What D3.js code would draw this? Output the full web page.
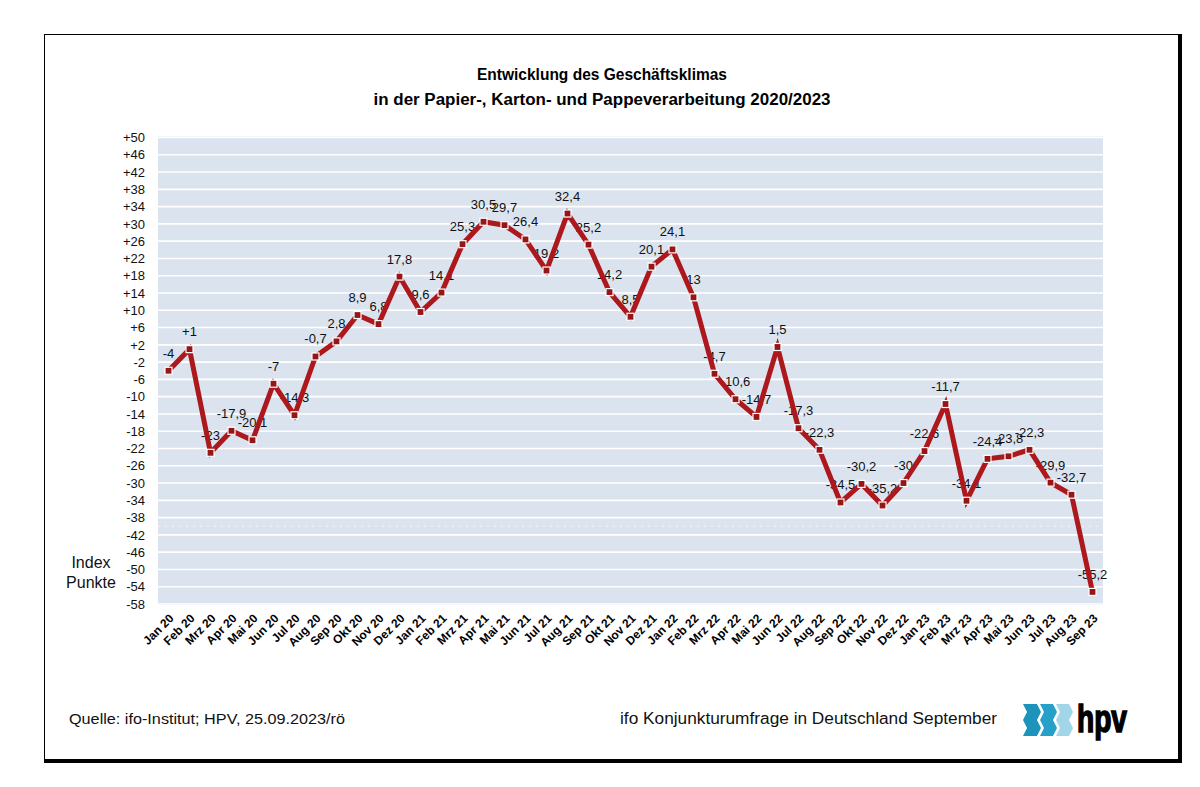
<!DOCTYPE html>
<html>
<head>
<meta charset="utf-8">
<script src="https://cdn.jsdelivr.net/npm/d3@7"></script>
<style>
  body { margin: 0; background: #fff; }
  svg { display: block; font-family: Arial, "Liberation Sans", sans-serif; }
</style>
</head>
<body>
<svg id="chart"></svg>
<script>
const months = [
  "Jan 20", "Feb 20", "Mrz 20", "Apr 20", "Mai 20", "Jun 20", "Jul 20", "Aug 20", "Sep 20", "Okt 20", "Nov 20", "Dez 20",
  "Jan 21", "Feb 21", "Mrz 21", "Apr 21", "Mai 21", "Jun 21", "Jul 21", "Aug 21", "Sep 21", "Okt 21", "Nov 21", "Dez 21",
  "Jan 22", "Feb 22", "Mrz 22", "Apr 22", "Mai 22", "Jun 22", "Jul 22", "Aug 22", "Sep 22", "Okt 22", "Nov 22", "Dez 22",
  "Jan 23", "Feb 23", "Mrz 23", "Apr 23", "Mai 23", "Jun 23", "Jul 23", "Aug 23", "Sep 23"
];

const values = [
  -4, 1, -23, -17.9, -20.1, -7, -14.3, -0.7, 2.8, 8.9, 6.8, 17.8,
  9.6, 14.1, 25.3, 30.5, 29.7, 26.4, 19.2, 32.4, 25.2, 14.2, 8.5, 20.1,
  24.1, 13, -4.7, -10.6, -14.7, 1.5, -17.3, -22.3, -34.5, -30.2, -35.2, -30,
  -22.6, -11.7, -34.1, -24.4, -23.8, -22.3, -29.9, -32.7, -55.2
];

// labels as printed in the chart (only +1 carries a plus sign)
const pointLabels = [
  "-4", "+1", "-23", "-17,9", "-20,1", "-7", "-14,3", "-0,7", "2,8", "8,9", "6,8", "17,8",
  "9,6", "14,1", "25,3", "30,5", "29,7", "26,4", "19,2", "32,4", "25,2", "14,2", "8,5", "20,1",
  "24,1", "13", "-4,7", "-10,6", "-14,7", "1,5", "-17,3", "-22,3", "-34,5", "-30,2", "-35,2", "-30",
  "-22,6", "-11,7", "-34,1", "-24,4", "-23,8", "-22,3", "-29,9", "-32,7", "-55,2"
];

const yTickValues = [50, 46, 42, 38, 34, 30, 26, 22, 18, 14, 10, 6, 2, -2, -6, -10, -14, -18, -22, -26, -30, -34, -38, -42, -46, -50, -54, -58];

const titleLines = ["Entwicklung des Geschäftsklimas", "in der Papier-, Karton- und Pappeverarbeitung 2020/2023"];
const yAxisTitle = ["Index", "Punkte"];
const sourceNote = "Quelle: ifo-Institut; HPV, 25.09.2023/rö";
const surveyNote = "ifo Konjunkturumfrage in Deutschland September";

const width = 1200;
const height = 787;

const svg = d3.select("#chart")
  .attr("width", width)
  .attr("height", height);

// frame with heavier right/bottom edge
svg.append("rect")
  .attr("x", 44.5).attr("y", 34.5)
  .attr("width", 1134).attr("height", 726)
  .attr("fill", "#fff")
  .attr("stroke", "#000")
  .attr("stroke-width", 1);
svg.append("line")
  .attr("x1", 1180).attr("x2", 1180).attr("y1", 34).attr("y2", 763)
  .attr("stroke", "#000").attr("stroke-width", 4);
svg.append("line")
  .attr("x1", 44).attr("x2", 1182).attr("y1", 761).attr("y2", 761)
  .attr("stroke", "#000").attr("stroke-width", 4);

const plot = { left: 158, right: 1103, top: 137.5, bottom: 604 };

const x = d3.scaleBand()
  .domain(months)
  .range([plot.left, plot.right])
  .padding(0);

const y = d3.scaleLinear()
  .domain([-58, 50])
  .range([plot.bottom, plot.top]);

const cx = d => x(d) + x.bandwidth() / 2;

// plot background
svg.append("rect")
  .attr("x", plot.left)
  .attr("y", plot.top - 1)
  .attr("width", plot.right - plot.left)
  .attr("height", plot.bottom - plot.top + 2)
  .attr("fill", "#dbe3ee");

// gridlines
svg.append("g")
  .selectAll("line")
  .data(yTickValues)
  .enter().append("line")
  .attr("x1", plot.left)
  .attr("x2", plot.right)
  .attr("y1", d => y(d))
  .attr("y2", d => y(d))
  .attr("stroke", "#fff")
  .attr("stroke-width", 1.6);

// faint dotted line seen in the original
svg.append("line")
  .attr("x1", plot.left).attr("x2", plot.right)
  .attr("y1", y(-40)).attr("y2", y(-40))
  .attr("stroke", "#fff")
  .attr("stroke-opacity", 0.7)
  .attr("stroke-dasharray", "2,5");

// y axis labels
const yAxis = d3.axisLeft(y)
  .tickValues(yTickValues)
  .tickSize(0)
  .tickPadding(0)
  .tickFormat(d => d > 0 ? "+" + d : String(d));

svg.append("g")
  .attr("transform", `translate(${plot.left - 13},0)`)
  .call(yAxis)
  .call(g => g.select(".domain").remove())
  .call(g => g.selectAll("text")
    .attr("font-family", "Arial, 'Liberation Sans', sans-serif")
    .attr("font-size", "13px")
    .attr("fill", "#111"));

// x axis labels
const xAxis = d3.axisBottom(x).tickSize(0).tickPadding(0);

svg.append("g")
  .attr("transform", `translate(0,${plot.bottom})`)
  .call(xAxis)
  .call(g => g.select(".domain").remove())
  .call(g => g.selectAll("text")
    .attr("font-family", "Arial, 'Liberation Sans', sans-serif")
    .attr("font-size", "12px")
    .attr("font-weight", "bold")
    .attr("fill", "#000")
    .attr("text-anchor", "end")
    .attr("dy", null)
    .attr("y", null)
    .attr("transform", "translate(6,15) rotate(-45)"));

// data labels (drawn under the line, like the original)
svg.append("g")
  .selectAll("text")
  .data(months)
  .enter().append("text")
  .attr("x", d => cx(d))
  .attr("y", (d, i) => y(values[i]) - 13)
  .attr("text-anchor", "middle")
  .attr("font-size", "13px")
  .attr("fill", "#111")
  .text((d, i) => pointLabels[i]);

const series = months.map((m, i) => ({ m, v: values[i] }));

const line = d3.line()
  .x(d => cx(d.m))
  .y(d => y(d.v));

svg.append("path")
  .datum(series)
  .attr("fill", "none")
  .attr("stroke", "#ad181c")
  .attr("stroke-width", 5)
  .attr("stroke-linejoin", "miter")
  .attr("d", line);

svg.append("g")
  .selectAll("rect")
  .data(series)
  .enter().append("rect")
  .attr("x", d => cx(d.m) - 3.5)
  .attr("y", d => y(d.v) - 3.5)
  .attr("width", 7)
  .attr("height", 7)
  .attr("fill", "#961517")
  .attr("stroke", "#fff")
  .attr("stroke-width", 1.2);

// titles
const titleWidths = [250, 457];
svg.append("g")
  .selectAll("text")
  .data(titleLines)
  .enter().append("text")
  .attr("x", 602)
  .attr("y", (d, i) => 80 + i * 25)
  .attr("text-anchor", "middle")
  .attr("font-size", "16px")
  .attr("font-weight", "bold")
  .attr("fill", "#000")
  .attr("textLength", (d, i) => titleWidths[i])
  .attr("lengthAdjust", "spacingAndGlyphs")
  .text(d => d);

svg.append("g")
  .selectAll("text")
  .data(yAxisTitle)
  .enter().append("text")
  .attr("x", 91)
  .attr("y", (d, i) => 568 + i * 20)
  .attr("text-anchor", "middle")
  .attr("font-size", "16px")
  .attr("fill", "#111")
  .text(d => d);

// footer
svg.append("text")
  .attr("x", 69).attr("y", 724)
  .attr("font-size", "14px")
  .attr("fill", "#111")
  .attr("textLength", 276)
  .attr("lengthAdjust", "spacingAndGlyphs")
  .text(sourceNote);

svg.append("text")
  .attr("x", 620).attr("y", 724)
  .attr("font-size", "16px")
  .attr("fill", "#111")
  .attr("textLength", 377)
  .attr("lengthAdjust", "spacingAndGlyphs")
  .text(surveyNote);

// hpv logo
const logo = svg.append("g").attr("transform", "translate(1023,704)");
const chevron = (x0, w) => `M${x0},0 L${x0 + w},0 L${x0 + w + 4},8 L${x0 + w},16 L${x0 + w + 4},24 L${x0 + w},32 L${x0},32 L${x0 + 4},24 L${x0},16 L${x0 + 4},8 Z`;
[[0, 14, "#1b93bb"], [17, 13, "#26a0c6"], [33, 13, "#a3d5e8"]].forEach(([x0, w, c]) => {
  logo.append("path").attr("d", chevron(x0, w)).attr("fill", c);
});
logo.append("text")
  .attr("x", 54).attr("y", 28)
  .attr("font-size", "38px")
  .attr("font-weight", "900")
  .attr("fill", "#000")
  .attr("stroke", "#000")
  .attr("stroke-width", 1.6)
  .attr("textLength", 50)
  .attr("lengthAdjust", "spacingAndGlyphs")
  .text("hpv");
</script>
</body>
</html>
